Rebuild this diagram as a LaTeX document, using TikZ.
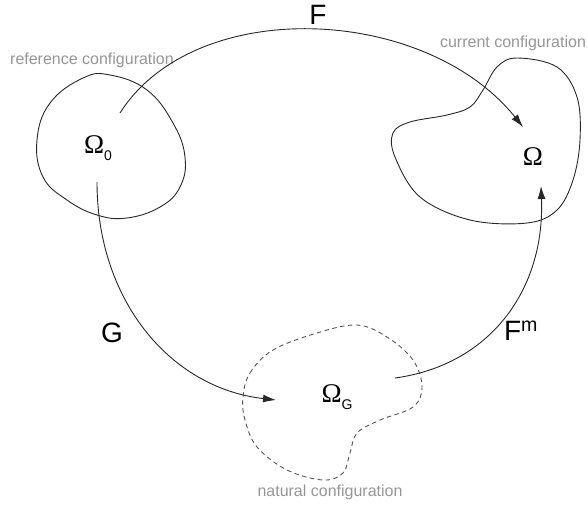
\documentclass[tikz,border=0pt]{standalone}
\usepackage{fontspec}
\setmainfont{Liberation Sans}
\newfontfamily\omfont{Liberation Serif}
\usepackage{tikz}
\usetikzlibrary{arrows.meta}
\definecolor{capgray}{RGB}{150,150,150}
\definecolor{ink}{RGB}{40,40,40}
\definecolor{dashgray}{RGB}{85,85,85}
\newcommand{\omsub}[1]{{\omfont Ω}\raisebox{-0.45ex}{\fontsize{14}{14}\selectfont #1}}

\begin{document}
\begin{tikzpicture}[x=1pt, y=-1pt, line width=0.9pt, ink,
      map/.style={draw=ink, -{Latex[length=13pt, width=8pt]}},
      blob/.style={draw=ink, line width=0.9pt},
      natblob/.style={draw=dashgray, line width=0.9pt, dash pattern=on 4.5pt off 3.5pt},
      lbl/.style={text=black, font=\fontsize{28}{30}\selectfont, inner sep=0pt},
      dom/.style={text=black, font=\fontsize{27}{29}\selectfont, inner sep=0pt},
      cfgcap/.style={text=capgray, font=\fontsize{16}{18}\selectfont, inner sep=0pt}]
    \useasboundingbox (0,0) rectangle (588,506);
    % the three configurations
    \draw[blob] plot[smooth cycle, tension=0.7] coordinates {
      (37,140) (50,103) (83,78) (110,75) (147,90) (173,123) (185,157)
      (180,187) (160,207) (127,218) (97,215) (67,200) (43,177)};
    \draw[blob] plot[smooth cycle, tension=0.6] coordinates {
      (483,90) (497,67) (517,58) (557,67) (577,97) (580,140) (573,180)
      (557,210) (527,223) (470,220) (420,197) (395,157) (393,133)
      (410,122) (447,115) (470,107)};
    \draw[natblob] plot[smooth cycle, tension=0.6] coordinates {
      (243,397) (250,373) (273,350) (317,333) (357,325) (387,337)
      (413,360) (422,387) (413,407) (380,420) (357,433) (350,453)
      (343,473) (323,480) (287,470) (257,447) (245,420)};
    \node[dom] (O0) at (98,148) {\omsub{0}};
    \node[dom] (O) at (533,157) {\omfont Ω};
    \node[dom] (OG) at (337,397) {\omsub{G}};
    \node[cfgcap] (refcap) at (92,60) {reference configuration};
    \node[cfgcap] (curcap) at (513,43) {current configuration};
    \node[cfgcap] (natcap) at (330,492) {natural configuration};
    % arrow ends
    \coordinate (Fs) at (120,113);
    \coordinate (Fe) at (523,127);
    \coordinate (Gs) at (97,182);
    \coordinate (Ge) at (276,400);
    \coordinate (Ms) at (395,378);
    \coordinate (Me) at (541,186);
    \draw[map] (Fs) .. controls (195,-5) and (425,5) .. (Fe);
    \draw[map] (Gs) .. controls (97,300) and (170,388) .. (Ge);
    \draw[map] (Ms) .. controls (490,365) and (545,290) .. (Me);
    \node[lbl] (F) at (318,15) {F};
    \node[lbl] (G) at (112,333) {G};
    \node[lbl] (Fm) at (521,331) {F\textsuperscript{m}};
  \end{tikzpicture}
\end{document}
